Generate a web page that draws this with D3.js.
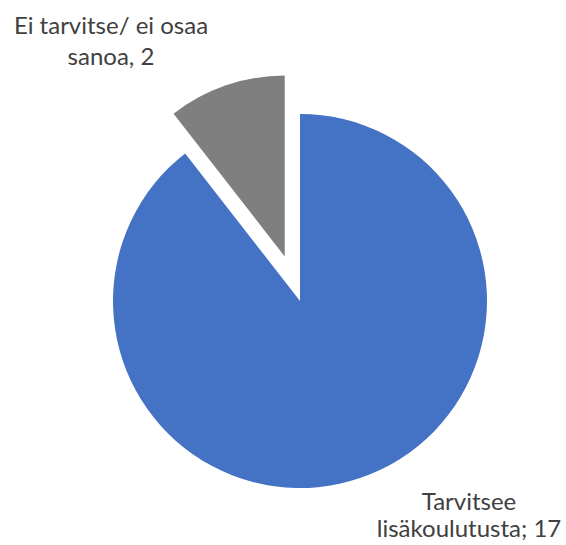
<!DOCTYPE html>
<html>
<head>
<meta charset="utf-8">
<script src="https://cdn.jsdelivr.net/npm/d3@7"></script>
<style>
  html, body { margin: 0; padding: 0; background: #ffffff; }
  svg { display: block; }
</style>
</head>
<body>
<svg id="chart" width="566" height="545"></svg>
<script>
// Data
const categories = ["Tarvitsee lisäkoulutusta", "Ei tarvitse/ ei osaa sanoa"];
const values = [17, 2];
const colors = ["#4472C4", "#7F7F7F"];
const labelLines = [["Tarvitsee", "lisäkoulutusta; 17"], ["Ei tarvitse/ ei osaa", "sanoa, 2"]];

const svg = d3.select("#chart");
const cx = 300, cy = 301;
const radii = [187, 181];
const explode = [0, 47];

const pie = d3.pie().sort(null).value(d => d)(values);

const g = svg.append("g").attr("transform", `translate(${cx},${cy})`);

pie.forEach((p, i) => {
  const mid = (p.startAngle + p.endAngle) / 2;
  const dx = explode[i] * Math.sin(mid);
  const dy = -explode[i] * Math.cos(mid);
  const arc = d3.arc().innerRadius(0).outerRadius(radii[i]);
  g.append("path")
    .attr("d", arc(p))
    .attr("transform", `translate(${dx},${dy})`)
    .attr("fill", colors[i]);
});

// Labels
const labelPos = [
  { x: 469, y: [510, 537] },
  { x: 111, y: [34, 65] }
];
labelLines.forEach((lines, i) => {
  const t = svg.append("text")
    .attr("text-anchor", "middle")
    .attr("font-family", "Lato, 'Noto Sans', sans-serif")
    .attr("font-size", 24)
    .attr("fill", "#404040");
  lines.forEach((ln, j) => {
    t.append("tspan").attr("x", labelPos[i].x).attr("y", labelPos[i].y[j]).text(ln);
  });
});
</script>
</body>
</html>
